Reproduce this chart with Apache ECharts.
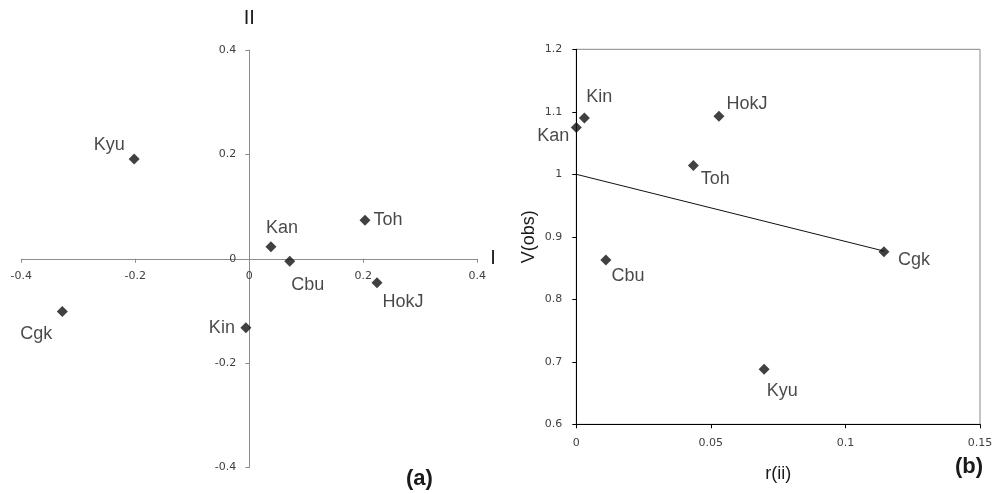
<!DOCTYPE html>
<html>
<head>
<meta charset="utf-8">
<script src="https://cdn.jsdelivr.net/npm/echarts@6/dist/echarts.min.js"></script>
<style>html,body{margin:0;padding:0;background:#fff}#c{width:994px;height:494px}</style>
</head>
<body>
<div id="c"></div>
<script>
// Panel (a): component scores
const namesA = ['Kyu', 'Toh', 'Kan', 'Cbu', 'HokJ', 'Cgk', 'Kin'];
const compI  = [-0.202, 0.203, 0.038, 0.071, 0.224, -0.328, -0.006];
const compII = [0.191, 0.074, 0.023, -0.005, -0.046, -0.101, -0.132];
const ticksA = [-0.4, -0.2, 0, 0.2, 0.4];

// Panel (b): r(ii) vs V(obs)
const namesB = ['Kin', 'Kan', 'HokJ', 'Toh', 'Cbu', 'Cgk', 'Kyu'];
const rii  = [0.003, 0.0, 0.053, 0.0435, 0.011, 0.1143, 0.0698];
const vobs = [1.090, 1.075, 1.093, 1.014, 0.863, 0.876, 0.688];
const trendX = [0, 0.1145];
const trendY = [1.0, 0.877];
const ticksBx = [0, 0.05, 0.1, 0.15];
const ticksBy = [0.6, 0.7, 0.8, 0.9, 1.0, 1.1, 1.2];

// label offsets (style)
const offA = {Kyu:[-25,-14], Toh:[23,0], Kan:[11,-19], Cbu:[18,24], HokJ:[26,19], Cgk:[-26,23], Kin:[-24,0]};
const offB = {Kin:[15,-21], Kan:[-23,9], HokJ:[28,-12], Toh:[22,13], Cbu:[22,16], Cgk:[30,8], Kyu:[18,22]};

const labelFont = {fontFamily: 'Liberation Sans, Arial, sans-serif', fontSize: 18, color: '#1a1a1a'};
const tickFont = {fontFamily: 'DejaVu Sans, Verdana, sans-serif', fontSize: 11, color: '#404040'};

function pts(xs, ys, names, offs) {
  return xs.map((x, i) => ({
    value: [x, ys[i]],
    name: names[i],
    label: {show: true, formatter: names[i], position: 'inside', align: 'center', verticalAlign: 'middle', offset: offs[names[i]], ...labelFont}
  }));
}

const gA = {left: 21.3, top: 50, width: 456, height: 417.5};
const chart = echarts.init(document.getElementById('c'), null, {renderer: 'canvas'});
chart.setOption({
  animation: false,
  backgroundColor: '#fff',
  grid: [
    {...gA, outerBoundsMode: 'none', containLabel: false},
    {left: 576.3, top: 49.3, width: 403.7, height: 375, outerBoundsMode: 'none', containLabel: false, show: true, borderColor: '#888', borderWidth: 1, backgroundColor: 'transparent'}
  ],
  xAxis: [
    {gridIndex: 0, type: 'value', min: ticksA[0], max: ticksA[ticksA.length-1], interval: 0.2,
     position: 'bottom', offset: -gA.height / 2,
     axisLine: {onZero: false, lineStyle: {color: '#8c8c8c', width: 1}},
     axisTick: {show: true, length: 4, lineStyle: {color: '#8c8c8c'}},
     axisLabel: {margin: 12, showMinLabel: true, showMaxLabel: true, ...tickFont, formatter: v => String(Math.round(v*10)/10)},
     splitLine: {show: false},
     name: 'I', nameLocation: 'end', nameGap: 13,
     nameTextStyle: {fontFamily: 'Liberation Sans, Arial, sans-serif', fontSize: 20, color: '#1a1a1a', verticalAlign: 'middle'}},
    {gridIndex: 1, type: 'value', min: ticksBx[0], max: ticksBx[ticksBx.length-1], interval: 0.05,
     axisLine: {onZero: false, lineStyle: {color: '#000', width: 1}},
     axisTick: {show: true, length: 4, lineStyle: {color: '#000'}},
     axisLabel: {margin: 13, showMinLabel: true, showMaxLabel: true, ...tickFont, formatter: v => String(Math.round(v*100)/100)},
     splitLine: {show: false},
     name: 'r(ii)', nameLocation: 'middle', nameGap: 41,
     nameTextStyle: {fontFamily: 'Liberation Sans, Arial, sans-serif', fontSize: 18, color: '#1a1a1a'}}
  ],
  yAxis: [
    {gridIndex: 0, type: 'value', min: ticksA[0], max: ticksA[ticksA.length-1], interval: 0.2,
     position: 'left', offset: -gA.width / 2,
     axisLine: {onZero: false, lineStyle: {color: '#8c8c8c', width: 1}},
     axisTick: {show: true, length: 4, lineStyle: {color: '#8c8c8c'}},
     axisLabel: {margin: 13, showMinLabel: true, showMaxLabel: true, ...tickFont, formatter: v => String(Math.round(v*10)/10)},
     splitLine: {show: false},
     name: 'II', nameLocation: 'end', nameGap: 22,
     nameTextStyle: {fontFamily: 'Liberation Sans, Arial, sans-serif', fontSize: 20, color: '#1a1a1a', align: 'center'}},
    {gridIndex: 1, type: 'value', min: ticksBy[0], max: ticksBy[ticksBy.length-1], interval: 0.1,
     axisLine: {onZero: false, lineStyle: {color: '#000', width: 1}},
     axisTick: {show: true, length: 4, lineStyle: {color: '#000'}},
     axisLabel: {margin: 14, showMinLabel: true, showMaxLabel: true, ...tickFont, formatter: v => String(Math.round(v*10)/10)},
     splitLine: {show: false},
     name: 'V(obs)', nameLocation: 'middle', nameGap: 38, nameRotate: 90,
     nameTextStyle: {fontFamily: 'Liberation Sans, Arial, sans-serif', fontSize: 18, color: '#1a1a1a'}}
  ],
  series: [
    {type: 'scatter', xAxisIndex: 0, yAxisIndex: 0, symbol: 'diamond', symbolSize: 11,
     itemStyle: {color: '#111'}, data: pts(compI, compII, namesA, offA)},
    {type: 'line', xAxisIndex: 1, yAxisIndex: 1, symbol: 'none', lineStyle: {color: '#111', width: 1},
     data: trendX.map((x, i) => [x, trendY[i]]), z: 1},
    {type: 'scatter', xAxisIndex: 1, yAxisIndex: 1, symbol: 'diamond', symbolSize: 11,
     itemStyle: {color: '#111'}, data: pts(rii, vobs, namesB, offB), z: 3}
  ],
  graphic: [
    {type: 'text', left: 406, top: 468, style: {text: '(a)', fontFamily: 'Liberation Sans, Arial, sans-serif', fontWeight: 'bold', fontSize: 22, fill: '#1a1a1a'}},
    {type: 'text', left: 955, top: 456, style: {text: '(b)', fontFamily: 'Liberation Sans, Arial, sans-serif', fontWeight: 'bold', fontSize: 22, fill: '#1a1a1a'}}
  ]
});
</script>
</body>
</html>
